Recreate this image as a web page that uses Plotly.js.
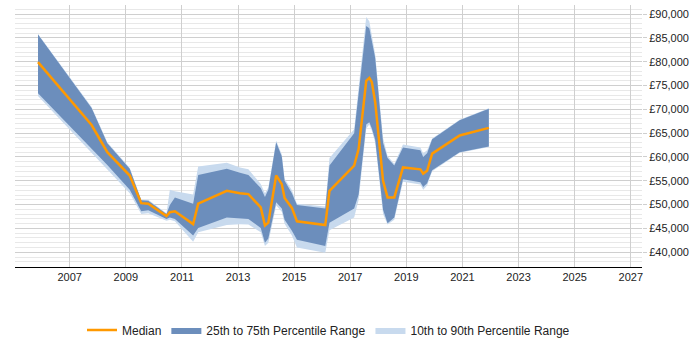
<!DOCTYPE html>
<html>
<head>
<meta charset="utf-8">
<script src="https://cdn.plot.ly/plotly-3.0.1.min.js"></script>
<style>html,body{margin:0;padding:0;background:#fff}#chart{width:700px;height:350px}</style>
</head>
<body>
<div id="chart"></div>
<script>
// Sample dates (decimal years) and salary percentiles in £
const years = [2005.87, 2007.78, 2008.34, 2009.14, 2009.55, 2009.80, 2010.45, 2010.57, 2010.75, 2011.40,
  2011.58, 2012.60, 2013.07, 2013.37, 2013.81, 2013.96, 2014.08, 2014.36, 2014.56, 2014.66,
  2014.92, 2015.10, 2016.11, 2016.26, 2017.14, 2017.30, 2017.57, 2017.68, 2017.77, 2017.89,
  2018.17, 2018.33, 2018.57, 2018.88, 2019.50, 2019.60, 2019.74, 2019.92, 2020.90, 2021.94];

const p10 = [72800, 60800, 57300, 52400, 48000, 48200, 46600, 46800, 46500, 42200,
  44200, 45700, 45900, 45800, 44200, 41300, 42000, 49800, 48500, 46000,
  43500, 41000, 39900, 44600, 47300, 51000, 66000, 66800, 65500, 63000,
  48000, 45800, 46800, 54800, 54200, 53100, 54000, 57000, 60900, 62100];

const p25 = [73400, 61800, 58300, 53100, 48600, 48800, 47000, 47300, 47000, 43500,
  45100, 47300, 47100, 47000, 45100, 42000, 42900, 50500, 49200, 46800,
  44500, 42600, 41300, 46200, 49200, 52100, 66800, 67300, 66000, 63600,
  48900, 46100, 47300, 55300, 54700, 53700, 54500, 57200, 61000, 62200];

const median = [79900, 66700, 61000, 56100, 50300, 50200, 47600, 48400, 48600, 45900,
  50200, 52900, 52400, 52200, 49400, 45600, 46200, 56100, 54300, 51400,
  49300, 46500, 45700, 52900, 58200, 61700, 76000, 76600, 75700, 71500,
  55000, 51500, 51500, 57800, 57400, 56500, 57100, 60700, 64500, 66100];

const p75 = [85700, 70300, 62900, 57500, 50900, 50800, 48000, 49900, 51500, 50200,
  56200, 57500, 56700, 56200, 53500, 51600, 53100, 63100, 60100, 55000,
  52400, 49900, 49200, 58200, 65000, 73000, 87500, 87000, 84000, 80800,
  63000, 59800, 58200, 62000, 61400, 60000, 60800, 63700, 67700, 70100];

const p90 = [85800, 70500, 63100, 57700, 51000, 51000, 48200, 53100, 52800, 52100,
  58000, 58800, 57800, 57400, 54300, 52400, 53600, 63400, 60500, 55400,
  53000, 50200, 49600, 59800, 65800, 74500, 89400, 88500, 85500, 81500,
  64000, 60200, 58600, 62600, 62000, 60800, 61400, 63900, 67800, 70200];

const yearTicks = [2007, 2009, 2011, 2013, 2015, 2017, 2019, 2021, 2023, 2025, 2027];

const lightBand = 'rgb(200,218,238)';
const darkBand = 'rgb(108,142,188)';
const medianColor = '#ff9900';

const traces = [
  {x: years, y: p10, mode: 'lines', line: {width: 0, color: lightBand}, showlegend: false, hoverinfo: 'skip'},
  {x: years, y: p90, mode: 'lines', fill: 'tonexty', fillcolor: lightBand, line: {width: 0, color: lightBand},
   name: '10th to 90th Percentile Range', legendrank: 3},
  {x: years, y: p25, mode: 'lines', line: {width: 0, color: darkBand}, showlegend: false, hoverinfo: 'skip'},
  {x: years, y: p75, mode: 'lines', fill: 'tonexty', fillcolor: darkBand, line: {width: 0, color: darkBand},
   name: '25th to 75th Percentile Range', legendrank: 2},
  {x: years, y: median, mode: 'lines', line: {width: 2.5, color: medianColor}, name: 'Median', legendrank: 1}
];

const layout = {
  width: 700, height: 350,
  margin: {l: 15, r: 58, t: 5, b: 57},
  paper_bgcolor: '#fff', plot_bgcolor: '#fff',
  font: {family: '"Liberation Sans", Arial, sans-serif', size: 11, color: '#222'},
  showlegend: true,
  legend: {orientation: 'h', x: 0.5, xanchor: 'center', y: -0.185, yanchor: 'top',
           font: {size: 12, color: '#222'}, traceorder: 'normal', itemwidth: 30},
  xaxis: {
    range: [2005.05, 2027.4], tickvals: yearTicks, ticktext: yearTicks.map(String),
    showgrid: true, gridcolor: '#cfcfcf', gridwidth: 1,
    showline: true, linecolor: '#000', linewidth: 1, ticks: '', zeroline: false,
    fixedrange: true
  },
  yaxis: {
    side: 'right', range: [36900, 91900], dtick: 5000, tick0: 40000,
    tickprefix: '£', tickformat: ',d',
    showgrid: true, gridcolor: '#cfcfcf', gridwidth: 1,
    minor: {dtick: 1000, showgrid: true, gridcolor: '#e8e8e8', gridwidth: 1},
    ticks: 'outside', ticklen: 4, tickcolor: '#cfcfcf',
    zeroline: false, showline: false, fixedrange: true
  }
};

Plotly.newPlot('chart', traces, layout, {displayModeBar: false, staticPlot: true});
</script>
</body>
</html>
